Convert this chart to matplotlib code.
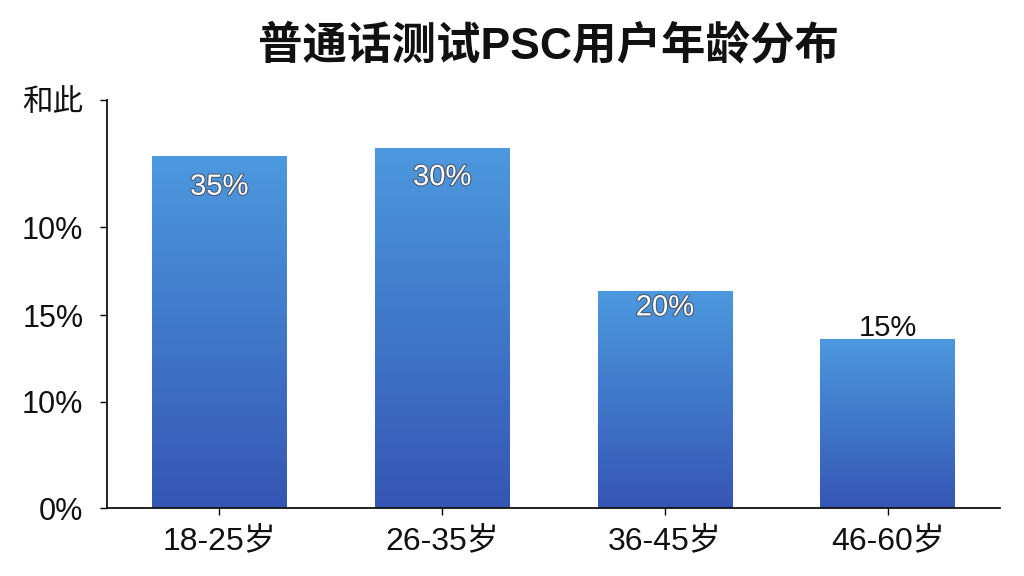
import matplotlib
matplotlib.use("Agg")
import matplotlib.pyplot as plt
import matplotlib.patheffects as pe
import numpy as np
from matplotlib.colors import LinearSegmentedColormap

plt.rcParams['font.family'] = ['Liberation Sans', 'Noto Sans CJK SC', 'DejaVu Sans']

# data (axis labels are kept as they appear)
categories = ['18-25岁', '26-35岁', '36-45岁', '46-60岁']
bar_heights = [34.5, 35.3, 21.3, 16.6]
bar_labels = ['35%', '30%', '20%', '15%']
ytick_pos = [0, 10.4, 18.9, 27.5, 40]
ytick_labels = ['0%', '10%', '15%', '10%', '和此']

title = '普通话测试PSC用户年龄分布'

fig = plt.figure(figsize=(10.24, 5.76), dpi=100)
ax = fig.add_axes([107 / 1024, 68 / 576, 893 / 1024, 408 / 576])

x = np.arange(len(categories))
bars = ax.bar(x, bar_heights, width=0.605, color='none', edgecolor='none')

cmap = LinearSegmentedColormap.from_list('blu', ['#3556b4', '#4c99de'])
grad = np.linspace(0, 1, 256).reshape(-1, 1)
for b in bars:
    x0, y0 = b.get_x(), b.get_y()
    im = ax.imshow(grad, cmap=cmap, origin='lower', aspect='auto',
                   extent=[x0, x0 + b.get_width(), y0, y0 + b.get_height()], zorder=2)
    im.set_clip_path(b)

# value labels (offsets in points as they sit in the picture)
offsets = [-22, -21, -12, 8]
for i, (h, lab, off) in enumerate(zip(bar_heights, bar_labels, offsets)):
    inside = off < 0
    t = ax.annotate(lab, (x[i], h), xytext=(0, off), textcoords='offset points',
                    ha='center', va='center', fontsize=21, zorder=3,
                    color='white' if inside else '#111111')
    if inside:
        t.set_path_effects([pe.withStroke(linewidth=1.6, foreground='#4a5a70')])

ax.set_xlim(-0.504, 3.504)
ax.set_ylim(0, 40)
ax.set_xticks(x)
ax.set_xticklabels(categories, fontsize=23, color='#111111')
ax.set_yticks(ytick_pos)
ax.set_yticklabels(ytick_labels, fontsize=22, color='#111111')
ax.tick_params(axis='x', length=5, width=1, pad=8)
ax.tick_params(axis='y', length=5, width=1, pad=12)

for s in ['top', 'right']:
    ax.spines[s].set_visible(False)
for s in ['left', 'bottom']:
    ax.spines[s].set_linewidth(1.3)
    ax.spines[s].set_color('#111111')

fig.text(548 / 1024, 1 - 47 / 576, title, ha='center', va='center',
         fontsize=32, fontweight='bold', color='#111111')

fig.savefig('out.png', dpi=100, facecolor='white')
